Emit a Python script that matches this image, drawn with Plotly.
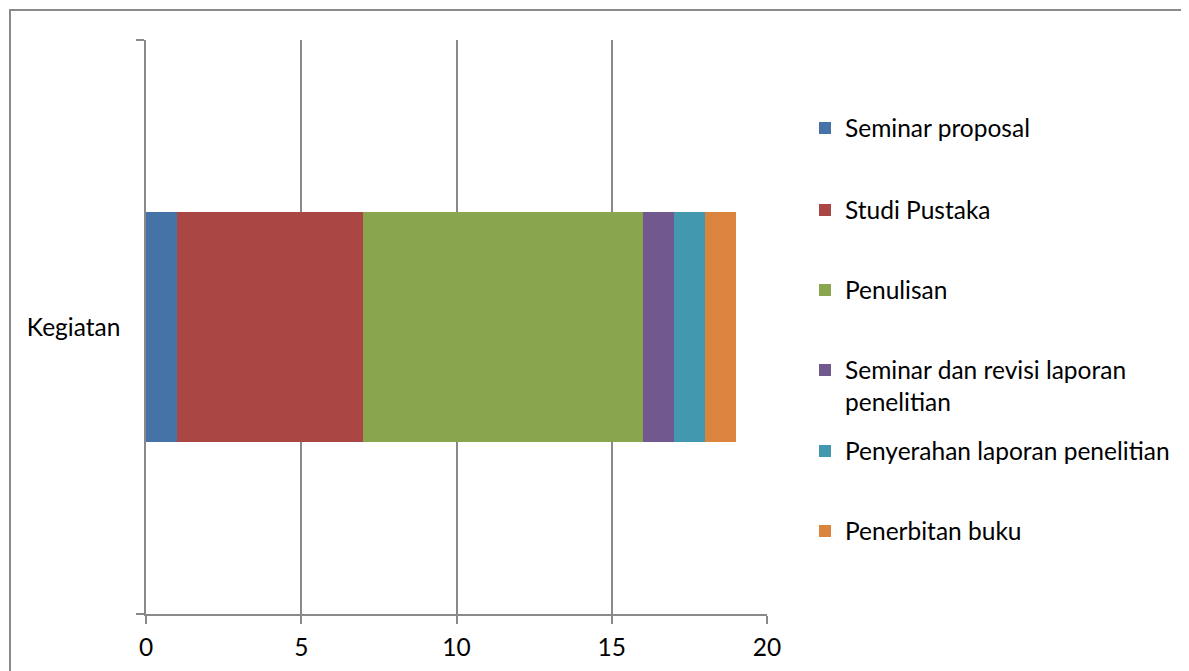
import plotly.graph_objects as go

categories = ["Kegiatan"]
series_names = [
    "Seminar proposal",
    "Studi Pustaka",
    "Penulisan",
    "Seminar dan revisi laporan<br>penelitian",
    "Penyerahan laporan penelitian",
    "Penerbitan buku",
]
series_values = [1, 6, 9, 1, 1, 1]
colors = ["#4572A7", "#AA4643", "#89A54E", "#71588F", "#4198AF", "#DB843D"]
x_ticks = [0, 5, 10, 15, 20]

W, H = 1189, 671
OFF = 8  # page body offset
L, R, T, B = 146 - OFF, 767 - OFF, 40 - OFF, 614 - OFF
pw, ph = R - L, B - T

def px_x(x):
    return (x - OFF - L) / pw

def px_y(y):
    return (B - (y - OFF)) / ph

FONT = "Lato"
FS = 24.5
GRID = "#898989"

fig = go.Figure()
legend_centers = [128, 210, 290, 386, 451, 531]
legend_names = ["legend", "legend2", "legend3", "legend4", "legend5", "legend6"]
for name, val, col, lg in zip(series_names, series_values, colors, legend_names):
    fig.add_trace(go.Bar(
        y=categories, x=[val], orientation="h", name=name,
        marker=dict(color=col, line=dict(width=0)),
        width=0.4, legend=lg,
    ))

layout_legends = {}
for lg, cy in zip(legend_names, legend_centers):
    layout_legends[lg] = dict(
        x=px_x(805), y=px_y(cy), xanchor="left", yanchor="middle",
        font=dict(family=FONT, size=FS, color="#000000"),
        bgcolor="rgba(0,0,0,0)", borderwidth=0, valign="top",
    )

fig.update_layout(
    width=W, height=H,
    margin=dict(l=L, r=W - R, t=T, b=H - B, pad=0),
    barmode="stack",
    plot_bgcolor="white", paper_bgcolor="white",
    showlegend=True,
    font=dict(family=FONT, size=FS, color="#000000"),
    xaxis=dict(
        range=[0, 20], tickvals=x_ticks, ticktext=[str(v) for v in x_ticks],
        showgrid=True, gridcolor=GRID, gridwidth=1.5,
        showline=True, linecolor=GRID, linewidth=1.5,
        ticks="outside", ticklen=8, tickcolor=GRID, tickwidth=1.5,
        zeroline=False, ticklabelstandoff=3,
        tickfont=dict(family=FONT, size=FS, color="#000000"),
    ),
    yaxis=dict(
        type="category", range=[-0.5, 0.5],
        showgrid=False, showline=True, linecolor=GRID, linewidth=1.5,
        ticks="outside", tickson="boundaries", ticklen=8, tickcolor=GRID, tickwidth=1.5,
        zeroline=False, ticklabelstandoff=19,
        tickfont=dict(family=FONT, size=FS, color="#000000"),
    ),
    shapes=[dict(
        type="rect", xref="paper", yref="paper",
        x0=px_x(10), x1=px_x(1230), y0=px_y(720), y1=px_y(10),
        line=dict(color="#8a8a8a", width=2), fillcolor="rgba(0,0,0,0)", layer="below",
    )],
    **layout_legends,
)

fig.write_html("out.html")
